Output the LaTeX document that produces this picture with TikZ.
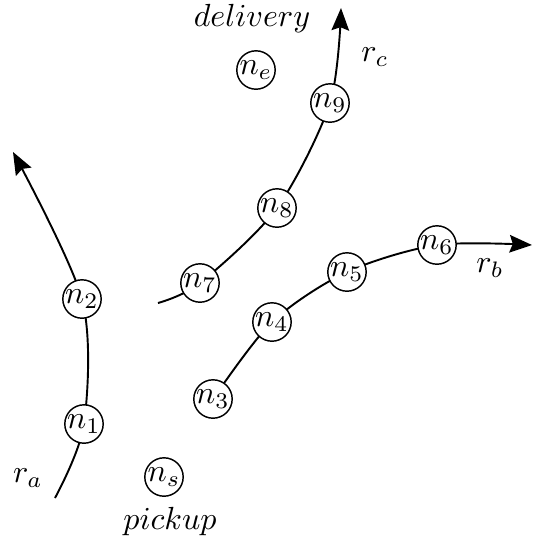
\documentclass[tikz,border=0pt]{standalone}
\usetikzlibrary{arrows.meta,backgrounds}
\begin{document}
\begin{tikzpicture}[x=0.3125pt,y=-0.3125pt,
  vtx/.style={circle,draw,line width=0.45pt,fill=white,inner sep=0pt,minimum size=12pt},
  route/.style={line width=0.6pt,-{Stealth[length=7pt,width=5.5pt,inset=1pt]}},
  routeplain/.style={line width=0.6pt},
  lbl/.style={inner sep=0pt}]
\useasboundingbox (0,0) rectangle (533,537);
\node[vtx] (ne) at (256,70) {$n_e$};
\node[vtx] (n9) at (330,103) {$n_9$};
\node[vtx] (n8) at (277,208) {$n_8$};
\node[vtx] (n7) at (200,283) {$n_7$};
\node[vtx] (n6) at (437,245) {$n_6$};
\node[vtx] (n5) at (347,272) {$n_5$};
\node[vtx] (n4) at (272,322) {$n_4$};
\node[vtx] (n3) at (213,399) {$n_3$};
\node[vtx] (n2) at (82,299) {$n_2$};
\node[vtx] (n1) at (84,424) {$n_1$};
\node[vtx] (ns) at (164,477) {$n_s$};
\coordinate (sa) at (55,498);
\coordinate (ea) at (13,152);
\coordinate (sc) at (158,303);
\coordinate (ec) at (341,8);
\coordinate (eb) at (532,245);
\node[lbl] (ldel) at (252,18) {$delivery$};
\node[lbl] (lrc) at (375,57) {$r_c$};
\node[lbl] (lrb) at (490,268) {$r_b$};
\node[lbl] (lra) at (28,478) {$r_a$};
\node[lbl] (lpick) at (170,521) {$pickup$};
\begin{scope}[on background layer]
\draw[route] plot[smooth] coordinates {(sa) (n1.center) (n2.center) (ea)};
\draw[route] plot[smooth] coordinates {(sc) (n7.center) (n8.center) (n9.center) (ec)};
\draw[route] plot[smooth] coordinates {(n3.center) (n4.center) (n5.center) (n6.center) (eb)};
\end{scope}
\end{tikzpicture}
\end{document}
